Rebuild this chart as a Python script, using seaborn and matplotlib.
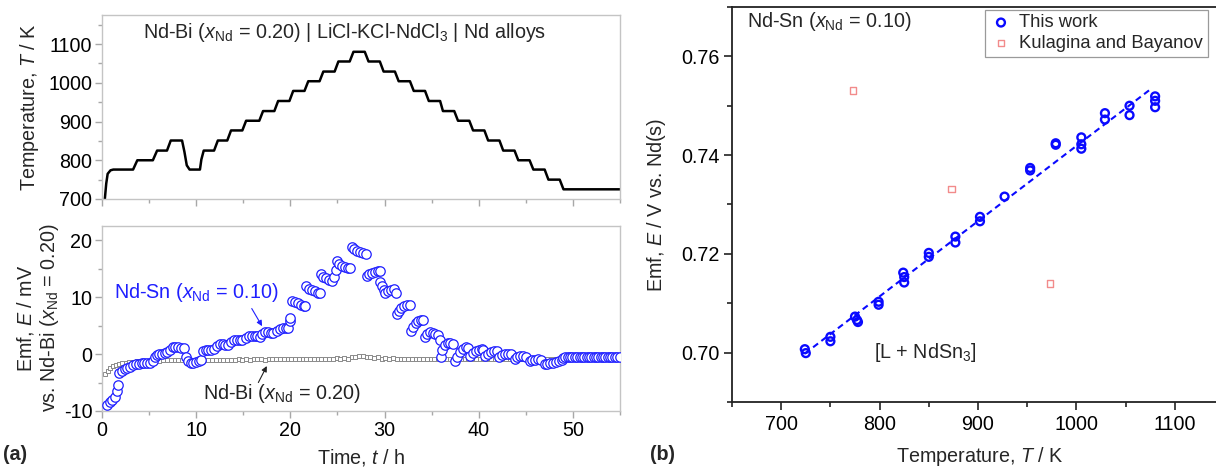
import numpy as np
import pandas as pd
import matplotlib
matplotlib.use("Agg")
import matplotlib.pyplot as plt
from matplotlib.ticker import MultipleLocator
import seaborn as sns

# ---------------- data ----------------
# temperature profile (time h, temperature K)
temp_t = [0.30, 0.45, 0.60, 0.90, 1.20, 3.30, 3.75, 5.40, 5.85, 6.90, 7.30, 8.50,
          8.75, 9.00, 9.30, 10.40, 10.55, 10.80, 11.90, 12.30, 13.30, 13.70, 14.90,
          15.30, 16.70, 17.10, 18.30, 18.70, 19.90, 20.30, 21.50, 21.90, 23.10,
          23.50, 24.70, 25.10, 26.30, 26.70, 27.90, 28.30, 29.50, 29.90, 31.10,
          31.50, 32.70, 33.10, 34.30, 34.70, 35.90, 36.20, 37.40, 37.80, 39.00,
          39.40, 40.60, 41.00, 42.20, 42.60, 43.80, 44.20, 45.40, 45.80, 47.00,
          47.40, 48.60, 49.00, 55.00]
temp_K = [700, 740, 765, 774, 776, 776, 800, 800, 825, 825, 851, 851,
          822, 787, 776, 776, 802, 825, 825, 851, 851, 877, 877,
          902, 902, 927, 927, 953, 953, 979, 979, 1004, 1004,
          1029, 1029, 1055, 1055, 1080, 1080, 1055, 1055, 1029, 1029,
          1004, 1004, 979, 979, 953, 953, 927, 927, 902, 902,
          877, 877, 851, 851, 825, 825, 800, 800, 776, 776,
          750, 750, 725, 725]

# Nd-Sn (x_Nd = 0.10) emf vs Nd-Bi, mV
sn_t = [0.5, 0.8, 1.1, 1.4, 1.6, 1.75, 1.85, 2.1, 2.4, 2.7, 3.0, 3.3,
        3.6, 3.9, 4.2, 4.5, 4.8, 5.1, 5.4,
        5.6, 5.8, 6.1, 6.4, 6.7, 6.9,
        7.2, 7.5, 7.8, 8.1, 8.4, 8.7,
        8.9, 9.1, 9.4, 9.7, 10.0, 10.3, 10.5,
        10.7, 11.0, 11.3, 11.6, 11.9,
        12.2, 12.5, 12.8, 13.1, 13.4,
        13.7, 14.0, 14.3, 14.6, 14.9,
        15.3, 15.6, 15.9, 16.2, 16.5, 16.8,
        17.0, 17.3, 17.6, 17.9, 18.2,
        18.6, 18.9, 19.2, 19.5, 19.8, 19.95, 20.0,
        20.2, 20.5, 20.8, 21.1, 21.4, 21.6,
        21.7, 22.0, 22.3, 22.6, 22.9, 23.1,
        23.2, 23.5, 23.8, 24.1, 24.4, 24.6, 24.8,
        24.9, 25.2, 25.5, 25.8, 26.1, 26.3,
        26.5, 26.8, 27.1, 27.4, 27.7, 28.0,
        28.1, 28.4, 28.7, 29.0, 29.3, 29.5,
        29.55, 29.7, 29.9, 30.1, 30.4, 30.7, 31.0, 31.2,
        31.3, 31.5, 31.8, 32.1, 32.4, 32.7,
        32.8, 33.0, 33.3, 33.6, 33.9, 34.1,
        34.3, 34.5, 34.8, 35.1, 35.4, 35.7, 35.9,
        35.95, 36.1, 36.4, 36.7, 37.0, 37.3,
        37.5, 37.7, 38.0, 38.3, 38.6, 38.9,
        39.1, 39.4, 39.7, 40.0, 40.3, 40.5,
        40.7, 41.0, 41.3, 41.6, 41.9,
        42.2, 42.5, 42.8, 43.1, 43.4,
        43.8, 44.1, 44.4, 44.7, 45.0,
        45.4, 45.7, 46.0, 46.3, 46.6,
        47.0, 47.3, 47.6, 47.9, 48.2, 48.5, 48.8, 49.0,
        49.2, 49.45, 49.7, 49.95, 50.2, 50.45, 50.7, 50.95, 51.2, 51.45,
        51.7, 51.95, 52.2, 52.45, 52.7, 52.95, 53.2, 53.45, 53.7, 53.95,
        54.2, 54.45, 54.7, 55.0]
sn_E = [-9.0, -8.5, -8.0, -7.6, -6.5, -5.5, -3.3, -2.9, -2.6, -2.4, -2.2, -2.0,
        -1.8, -1.7, -1.6, -1.6, -1.5, -1.5, -1.3,
        -0.5, -0.1, 0.0, 0.1, 0.2, 0.3,
        0.8, 1.2, 1.2, 1.2, 1.1, 1.0,
        -0.5, -1.3, -1.6, -1.5, -1.4, -1.2, -1.0,
        0.6, 0.8, 0.8, 0.8, 0.9,
        1.4, 1.7, 1.7, 1.6, 1.6,
        2.2, 2.5, 2.5, 2.4, 2.4,
        2.9, 3.2, 3.2, 3.2, 3.1, 3.0,
        3.6, 3.8, 3.8, 3.7, 3.7,
        4.1, 4.4, 4.5, 4.5, 4.6, 5.8, 6.3,
        9.3, 9.1, 8.9, 8.7, 8.5, 8.5,
        12.0, 11.5, 11.2, 11.0, 10.8, 10.7,
        14.0, 13.5, 13.3, 13.0, 12.8, 13.5, 14.8,
        16.3, 15.8, 15.5, 15.3, 15.2, 15.1,
        18.8, 18.5, 18.1, 17.9, 17.7, 17.6,
        13.8, 14.1, 14.3, 14.5, 14.6, 14.6,
        12.6, 12.0, 11.2, 10.7, 11.0, 11.3, 11.5, 10.8,
        7.0, 7.6, 8.1, 8.4, 8.6, 8.6,
        4.1, 4.8, 5.4, 5.8, 6.0, 5.9,
        3.0, 3.5, 3.8, 3.7, 3.6, 3.3, 2.5,
        -0.6, 0.8, 1.6, 1.9, 2.0, 1.8,
        -1.3, -0.5, 0.3, 0.9, 1.2, 1.1,
        -0.4, 0.2, 0.6, 0.8, 0.9, 0.7,
        -0.3, 0.1, 0.4, 0.6, 0.5,
        -0.5, -0.2, 0.0, 0.1, 0.0,
        -0.8, -0.6, -0.4, -0.4, -0.5,
        -1.3, -1.1, -1.0, -0.9, -1.0,
        -1.8, -1.7, -1.6, -1.5, -1.4, -1.3, -1.0, -0.7,
        -0.5, -0.5, -0.5, -0.5, -0.5, -0.5, -0.5, -0.5, -0.5, -0.5,
        -0.5, -0.5, -0.5, -0.5, -0.5, -0.5, -0.5, -0.5, -0.5, -0.5,
        -0.5, -0.5, -0.5, -0.5]

# Nd-Bi (x_Nd = 0.20) reference, mV
bi_t = [0.3, 0.6, 0.9, 1.2, 1.5, 1.8, 2.1, 2.5, 2.9, 3.3, 3.7, 4.1, 4.5, 4.9,
        5.3, 5.7, 6.1, 6.5, 6.9, 7.3, 7.7, 8.1, 8.5, 8.9, 9.3, 9.7, 10.1, 10.5,
        10.9, 11.3, 11.7, 12.1, 12.5, 12.9, 13.3, 13.7, 14.1, 14.5, 14.9, 15.3,
        15.7, 16.1, 16.5, 16.9, 17.3, 17.7, 18.1, 18.5, 18.9, 19.3, 19.7, 20.1,
        20.5, 20.9, 21.3, 21.7, 22.1, 22.5, 22.9, 23.3, 23.7, 24.1, 24.5, 24.9,
        25.3, 25.7, 26.1, 26.5, 26.9, 27.3, 27.7, 28.1, 28.5, 28.9, 29.3, 29.7,
        30.1, 30.5, 30.9, 31.3, 31.7, 32.1, 32.5, 32.9, 33.3, 33.7, 34.1, 34.5,
        34.9, 35.3, 35.7, 36.1, 36.5, 36.9, 37.3, 37.7, 38.1, 38.5, 38.9, 39.3,
        39.7, 40.1, 40.5, 40.9, 41.3, 41.7, 42.1, 42.5, 42.9, 43.3, 43.7, 44.1,
        44.5, 44.9, 45.3, 45.7, 46.1, 46.5, 46.9, 47.3, 47.7, 48.1]
bi_E = [-3.5, -2.9, -2.4, -2.1, -1.9, -1.7, -1.6, -1.5, -1.4, -1.4, -1.3, -1.3, -1.3, -1.2,
        -1.2, -1.2, -1.2, -1.1, -1.1, -1.1, -1.1, -1.1, -1.1, -1.1, -1.1, -1.1, -1.0, -1.0,
        -1.0, -1.0, -1.0, -1.0, -1.0, -1.0, -1.0, -1.0, -1.0, -0.9, -1.0, -0.9,
        -1.0, -0.9, -0.9, -0.9, -1.0, -0.9, -0.9, -0.9, -0.9, -0.9, -0.9, -0.9,
        -0.9, -0.8, -0.9, -0.8, -0.9, -0.8, -0.8, -0.9, -0.8, -0.8, -0.8, -0.7,
        -0.8, -0.7, -0.8, -0.6, -0.5, -0.4, -0.3, -0.5, -0.6, -0.7, -0.6, -0.8,
        -0.7, -0.8, -0.7, -0.8, -0.9, -0.8, -0.8, -0.9, -0.8, -0.8, -0.9, -0.8,
        -0.8, -0.9, -0.8, -0.8, -0.9, -0.8, -0.8, -0.9, -0.8, -0.8, -0.9, -0.8,
        -0.8, -0.9, -0.8, -0.8, -0.9, -0.8, -0.8, -0.9, -0.8, -0.8, -0.9, -0.8,
        -0.8, -0.9, -0.8, -0.9, -0.9, -0.8, -0.9, -0.9, -0.9, -0.9]

# panel (b): this work
tw_T = [724, 725, 750, 750, 775, 777, 778, 799, 799, 824, 825, 825, 850, 850,
        877, 877, 902, 902, 927, 953, 953, 979, 979, 1005, 1005, 1005,
        1029, 1029, 1054, 1054, 1080, 1080, 1080]
tw_E = [0.7007, 0.6999, 0.7032, 0.7023, 0.7073, 0.7066, 0.7062, 0.7103, 0.7097,
        0.7162, 0.7153, 0.7142, 0.7202, 0.7194, 0.7235, 0.7223, 0.7275, 0.7266,
        0.7316, 0.7374, 0.7369, 0.7424, 0.7421, 0.7436, 0.7422, 0.7413,
        0.7485, 0.7472, 0.7500, 0.7481, 0.7519, 0.7510, 0.7497]
# linear fit line endpoints
fit_T = [724, 1077]
fit_E = [0.6998, 0.7536]
# Kulagina and Bayanov
kb_T = [773, 873, 973]
kb_E = [0.7531, 0.7331, 0.7140]

# ---------------- style ----------------
sns.set_theme(style="ticks")
plt.rcParams["font.family"] = ["Liberation Sans", "DejaVu Sans"]
plt.rcParams["mathtext.fontset"] = "custom"
plt.rcParams["mathtext.rm"] = "Liberation Sans"
plt.rcParams["mathtext.it"] = "Liberation Sans:italic"
plt.rcParams["mathtext.bf"] = "Liberation Sans:bold"
plt.rcParams["axes.unicode_minus"] = False
FS = 14.2

W, H = 1216, 467
fig = plt.figure(figsize=(W / 100, H / 100), dpi=100)


def px_axes(x0, y0, x1, y1):
    return fig.add_axes([x0 / W, 1 - y1 / H, (x1 - x0) / W, (y1 - y0) / H])


ax_T = px_axes(102, 15, 620, 199)
ax_E = px_axes(102, 226, 620, 411)
ax_b = px_axes(732, 7, 1224, 402)

gray_spine = "#c4c4c4"
for ax in (ax_T, ax_E):
    for s in ax.spines.values():
        s.set_color(gray_spine)
        s.set_linewidth(1.0)
    ax.tick_params(which="both", direction="out", color="#a8a8a8", labelsize=FS,
                   labelcolor="black", pad=2)
    ax.tick_params(which="major", length=5, width=1)
    ax.tick_params(which="minor", length=3, width=1)
    ax.set_xlim(0, 55)
    ax.xaxis.set_major_locator(MultipleLocator(10))
    ax.xaxis.set_minor_locator(MultipleLocator(5))

# ---- top: temperature ----
df_T = pd.DataFrame({"t": temp_t, "T": temp_K})
sns.lineplot(data=df_T, x="t", y="T", ax=ax_T, color="black", lw=1.8,
             estimator=None, sort=False)
ax_T.set_ylim(700, 1175)
ax_T.yaxis.set_major_locator(MultipleLocator(100))
ax_T.yaxis.set_minor_locator(MultipleLocator(50))
ax_T.set_xticklabels([])
ax_T.set_xlabel("")
ax_T.set_ylabel("")
ax_T.text(0.468, 0.905, r"Nd-Bi ($x_\mathrm{Nd}$ = 0.20) | LiCl-KCl-NdCl$_3$ | Nd alloys",
          transform=ax_T.transAxes, ha="center", va="center", fontsize=FS)

# ---- bottom: emf ----
blue = "#1f1fff"
sns.scatterplot(x=bi_t, y=bi_E, ax=ax_E, marker="s", s=8, color="white",
                edgecolor="#8a8a8a", linewidth=0.7, zorder=2)
sns.scatterplot(x=sn_t, y=sn_E, ax=ax_E, marker="o", s=46, color="white",
                edgecolor=blue, linewidth=0.9, zorder=3)
ax_E.set_ylim(-10, 22.5)
ax_E.yaxis.set_major_locator(MultipleLocator(10))
ax_E.yaxis.set_minor_locator(MultipleLocator(5))
ax_E.set_xlabel("")
ax_E.set_ylabel("")

ax_E.text(10.0, 10.8, r"Nd-Sn ($x_\mathrm{Nd}$ = 0.10)", color=blue, fontsize=FS,
          ha="center", va="center")
ax_E.annotate("", xy=(17.0, 4.9), xytext=(15.9, 8.0),
              arrowprops=dict(arrowstyle="-|>", color=blue, lw=0.8,
                              mutation_scale=8, shrinkA=0, shrinkB=0))
ax_E.text(19.1, -6.9, r"Nd-Bi ($x_\mathrm{Nd}$ = 0.20)", color="#222222", fontsize=FS,
          ha="center", va="center")
ax_E.annotate("", xy=(17.5, -2.1), xytext=(16.6, -5.0),
              arrowprops=dict(arrowstyle="-|>", color="#222222", lw=0.8,
                              mutation_scale=8, shrinkA=0, shrinkB=0))

fig.text(361 / W, 1 - 458 / H, r"Time, $t$ / h", ha="center", va="center", fontsize=FS)
fig.text(30 / W, 1 - 107 / H, r"Temperature, $T$ / K", ha="center", va="center",
         rotation=90, fontsize=FS)
fig.text(25 / W, 1 - 318 / H, r"Emf, $E$ / mV", ha="center", va="center",
         rotation=90, fontsize=FS)
fig.text(50 / W, 1 - 318 / H, r"vs. Nd-Bi ($x_\mathrm{Nd}$ = 0.20)", ha="center",
         va="center", rotation=90, fontsize=FS)
fig.text(3 / W, 1 - 455 / H, "(a)", ha="left", va="center", fontsize=FS,
         fontweight="bold")

# ---- right panel ----
bblue = "#0a0aff"
sns.lineplot(x=fit_T, y=fit_E, ax=ax_b, color=bblue, lw=1.5,
             linestyle=(0, (3.0, 2.0)), zorder=2)
sns.scatterplot(x=tw_T, y=tw_E, ax=ax_b, marker="o", s=32, facecolor="none",
                edgecolor=bblue, linewidth=1.7, zorder=3, label="This work")
sns.scatterplot(x=kb_T, y=kb_E, ax=ax_b, marker="s", s=22, facecolor="none",
                edgecolor="#f28b8b", linewidth=1.0, zorder=3,
                label="Kulagina and Bayanov")
ax_b.set_xlim(650, 1150)
ax_b.set_ylim(0.69, 0.77)
ax_b.xaxis.set_major_locator(MultipleLocator(100))
ax_b.xaxis.set_minor_locator(MultipleLocator(50))
ax_b.yaxis.set_major_locator(MultipleLocator(0.02))
ax_b.yaxis.set_minor_locator(MultipleLocator(0.01))
ax_b.yaxis.set_major_formatter(matplotlib.ticker.FormatStrFormatter("%.2f"))
for k in ("left", "bottom", "top"):
    ax_b.spines[k].set_color("#222222")
    ax_b.spines[k].set_linewidth(1.3)
ax_b.spines["right"].set_visible(False)
ax_b.tick_params(which="both", direction="out", color="#222222", labelsize=FS,
                 labelcolor="black", pad=3)
ax_b.tick_params(which="major", length=6, width=1.2)
ax_b.tick_params(which="minor", length=3.5, width=1.2)
ax_b.set_xlabel("")
ax_b.set_ylabel("")
leg = ax_b.legend(loc="upper left", bbox_to_anchor=(0.515, 0.993), fontsize=13.2,
                  frameon=True, fancybox=False, framealpha=1, edgecolor="#9a9a9a",
                  borderpad=0.25, handletextpad=0.4, labelspacing=0.2,
                  handlelength=1.2, borderaxespad=0)
leg.get_frame().set_linewidth(0.9)

ax_b.text(665, 0.7671, r"Nd-Sn ($x_\mathrm{Nd}$ = 0.10)", ha="left", va="center",
          fontsize=FS)
ax_b.text(794, 0.7001, r"[L + NdSn$_3$]", ha="left", va="center", fontsize=FS)

fig.text(980 / W, 1 - 457 / H, r"Temperature, $T$ / K", ha="center", va="center",
         fontsize=FS)
fig.text(657 / W, 1 - 205 / H, r"Emf, $E$ / V vs. Nd(s)", ha="center", va="center",
         rotation=90, fontsize=FS)
fig.text(650 / W, 1 - 455 / H, "(b)", ha="left", va="center", fontsize=FS,
         fontweight="bold")

fig.savefig("out.png", dpi=100)
